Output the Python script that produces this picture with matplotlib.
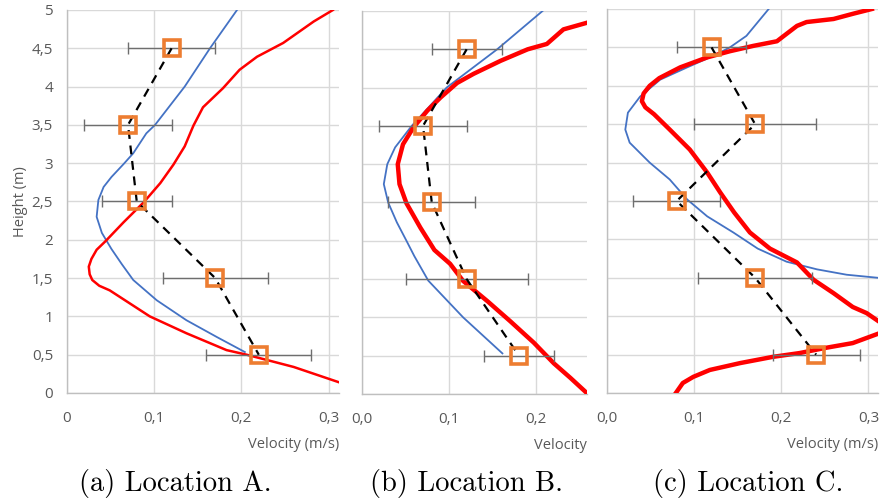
import matplotlib
matplotlib.use("Agg")
import matplotlib.pyplot as plt
from matplotlib.ticker import FuncFormatter

# measured points (same heights for every location)
meas_h = [4.5, 3.5, 2.5, 1.5, 0.5]

a_meas_v = [0.12, 0.07, 0.08, 0.17, 0.22]
a_meas_err = [0.05, 0.05, 0.04, 0.06, 0.06]
b_meas_v = [0.12, 0.07, 0.08, 0.12, 0.18]
b_meas_err = [0.04, 0.05, 0.05, 0.07, 0.04]
c_meas_v = [0.12, 0.17, 0.08, 0.17, 0.24]
c_meas_err = [0.04, 0.07, 0.05, 0.065, 0.05]

# model profiles, location A
a_blue_v = [0.195, 0.164, 0.135, 0.101, 0.091, 0.076, 0.065, 0.051, 0.042, 0.036,
            0.034, 0.040, 0.051, 0.063, 0.076, 0.103, 0.137, 0.172, 0.204]
a_blue_h = [5.0, 4.5, 4.0, 3.5, 3.39, 3.13, 2.99, 2.82, 2.69, 2.52,
            2.30, 2.09, 1.88, 1.68, 1.475, 1.21, 0.95, 0.73, 0.535]
a_red_v = [0.305, 0.283, 0.248, 0.218, 0.198, 0.179, 0.156, 0.145, 0.135, 0.122,
           0.107, 0.088, 0.065, 0.044, 0.034, 0.028, 0.025, 0.026, 0.029, 0.037,
           0.049, 0.072, 0.095, 0.137, 0.183, 0.206, 0.260, 0.312, 0.33]
a_red_h = [5.0, 4.85, 4.57, 4.39, 4.22, 3.98, 3.73, 3.49, 3.22, 2.98,
           2.74, 2.49, 2.23, 1.98, 1.87, 1.75, 1.65, 1.55, 1.475, 1.40,
           1.34, 1.17, 1.0, 0.78, 0.56, 0.5, 0.34, 0.14, 0.08]

# location B
b_blue_v = [0.207, 0.155, 0.097, 0.057, 0.038, 0.029, 0.025, 0.030, 0.040, 0.051,
            0.060, 0.076, 0.116, 0.161]
b_blue_h = [5.0, 4.5, 4.0, 3.5, 3.22, 3.0, 2.74, 2.5, 2.24, 2.0,
            1.80, 1.48, 1.0, 0.53]
b_red_v = [0.27, 0.259, 0.231, 0.212, 0.19, 0.159, 0.128, 0.109, 0.090, 0.075,
           0.059, 0.047, 0.041, 0.043, 0.051, 0.067, 0.083, 0.101, 0.116, 0.144,
           0.170, 0.197, 0.220, 0.239, 0.259]
b_red_h = [4.88, 4.85, 4.76, 4.57, 4.5, 4.35, 4.18, 4.06, 3.87, 3.70,
           3.48, 3.26, 3.0, 2.74, 2.49, 2.17, 1.88, 1.70, 1.475, 1.21,
           0.95, 0.67, 0.40, 0.21, 0.0]

# location C
c_blue_v = [0.187, 0.160, 0.141, 0.122, 0.092, 0.061, 0.038, 0.024, 0.021, 0.026,
            0.049, 0.072, 0.092, 0.115, 0.145, 0.173, 0.206, 0.241, 0.275, 0.311,
            0.33]
c_blue_h = [5.02, 4.65, 4.5, 4.39, 4.24, 4.08, 3.86, 3.65, 3.43, 3.26,
            3.0, 2.78, 2.52, 2.30, 2.09, 1.88, 1.71, 1.61, 1.54, 1.50,
            1.48]
c_red_v = [0.304, 0.283, 0.260, 0.229, 0.218, 0.203, 0.195, 0.168, 0.141, 0.115,
           0.084, 0.060, 0.049, 0.042, 0.040, 0.044, 0.054, 0.072, 0.095, 0.115,
           0.130, 0.146, 0.164, 0.187, 0.218, 0.237, 0.260, 0.282, 0.298, 0.325,
           0.282, 0.252, 0.221, 0.190, 0.153, 0.118, 0.099, 0.087, 0.079]
c_red_h = [5.0, 4.94, 4.87, 4.83, 4.78, 4.65, 4.58, 4.52, 4.45, 4.37,
           4.24, 4.10, 4.0, 3.90, 3.80, 3.72, 3.63, 3.43, 3.17, 2.87,
           2.61, 2.35, 2.09, 1.88, 1.70, 1.475, 1.30, 1.12, 1.04, 0.83,
           0.65, 0.59, 0.52, 0.47, 0.39, 0.30, 0.21, 0.13, 0.0]

captions = ["(a) Location A.", "(b) Location B.", "(c) Location C."]
xlabels = ["Velocity (m/s)", "Velocity", "Velocity (m/s)"]

GRID = "#d9d9d9"
TXT = "#595959"
BLUE = "#4472c4"
RED = "#ff0000"
ORANGE = "#ed7d31"

plt.rcParams["font.family"] = ["Open Sans", "DejaVu Sans"]

fig = plt.figure(figsize=(8.81, 5.01), dpi=100)

# axes boxes in pixels: left, right, top, bottom
boxes = [(67, 339, 10, 393), (362, 587, 11, 394), (607, 878, 9, 393)]
xmaxes = [0.312, 0.258, 0.311]
panels = [
    (a_meas_v, a_meas_err, a_blue_v, a_blue_h, a_red_v, a_red_h, 1.8),
    (b_meas_v, b_meas_err, b_blue_v, b_blue_h, b_red_v, b_red_h, 3.2),
    (c_meas_v, c_meas_err, c_blue_v, c_blue_h, c_red_v, c_red_h, 3.2),
]
cap_x = [175, 466, 748]


def fmt_comma(v, pos, digits):
    s = f"{v:.{digits}f}" if digits else f"{v:g}"
    return s.replace(".", ",")


for i, (mv, me, bv, bh, rv, rh, rlw) in enumerate(panels):
    l, r, t, b = boxes[i]
    ax = fig.add_axes([l / 881, 1 - b / 501, (r - l) / 881, (b - t) / 501])
    ax.set_xlim(0, xmaxes[i])
    ax.set_ylim(0, 5)
    ax.set_xticks([0, 0.1, 0.2, 0.3] if xmaxes[i] > 0.3 else [0, 0.1, 0.2])
    ax.set_yticks([0, 0.5, 1, 1.5, 2, 2.5, 3, 3.5, 4, 4.5, 5])
    ax.grid(True, color=GRID, lw=1.0)
    ax.set_axisbelow(True)
    for s in ["top", "right"]:
        ax.spines[s].set_visible(False)
    for s in ["left", "bottom"]:
        ax.spines[s].set_color("#bfbfbf")
        ax.spines[s].set_linewidth(1.0)
    ax.tick_params(axis="x", length=0, labelsize=11, colors=TXT, pad=13)
    ax.tick_params(axis="y", length=0, labelsize=11, colors=TXT, pad=10)

    if i == 0:
        ax.xaxis.set_major_formatter(FuncFormatter(lambda v, p: fmt_comma(v, p, 0 if v == 0 else 1)))
        ax.yaxis.set_major_formatter(FuncFormatter(lambda v, p: fmt_comma(v, p, 0)))
        ax.set_ylabel("Height (m)", fontsize=10.5, color=TXT, labelpad=3)
    else:
        ax.xaxis.set_major_formatter(FuncFormatter(lambda v, p: fmt_comma(v, p, 1)))
        ax.set_yticklabels([])

    ax.plot(bv, bh, color=BLUE, lw=1.3, zorder=3, solid_joinstyle="round")
    ax.plot(rv, rh, color=RED, lw=rlw, zorder=3, solid_joinstyle="round")
    ax.errorbar(mv, meas_h, xerr=me, fmt="none", ecolor="#6e6e6e",
                elinewidth=1.0, capsize=4, capthick=1.0, zorder=4)
    ax.plot(mv, meas_h, color="black", lw=1.6, dashes=(4, 3), zorder=5)
    ax.plot(mv, meas_h, ls="none", marker="s", ms=12, mfc="none",
            mec=ORANGE, mew=2.6, zorder=6)

    ax.set_xlabel(xlabels[i], fontsize=10.5, color=TXT)
    ax.xaxis.set_label_coords(1.0, -0.115)
    ax.xaxis.label.set_horizontalalignment("right")

    fig.text(cap_x[i] / 881, 1 - 483 / 501, captions[i], family="cmr10",
             fontsize=20.5, ha="center", va="center")

fig.savefig("out.png", dpi=100)
